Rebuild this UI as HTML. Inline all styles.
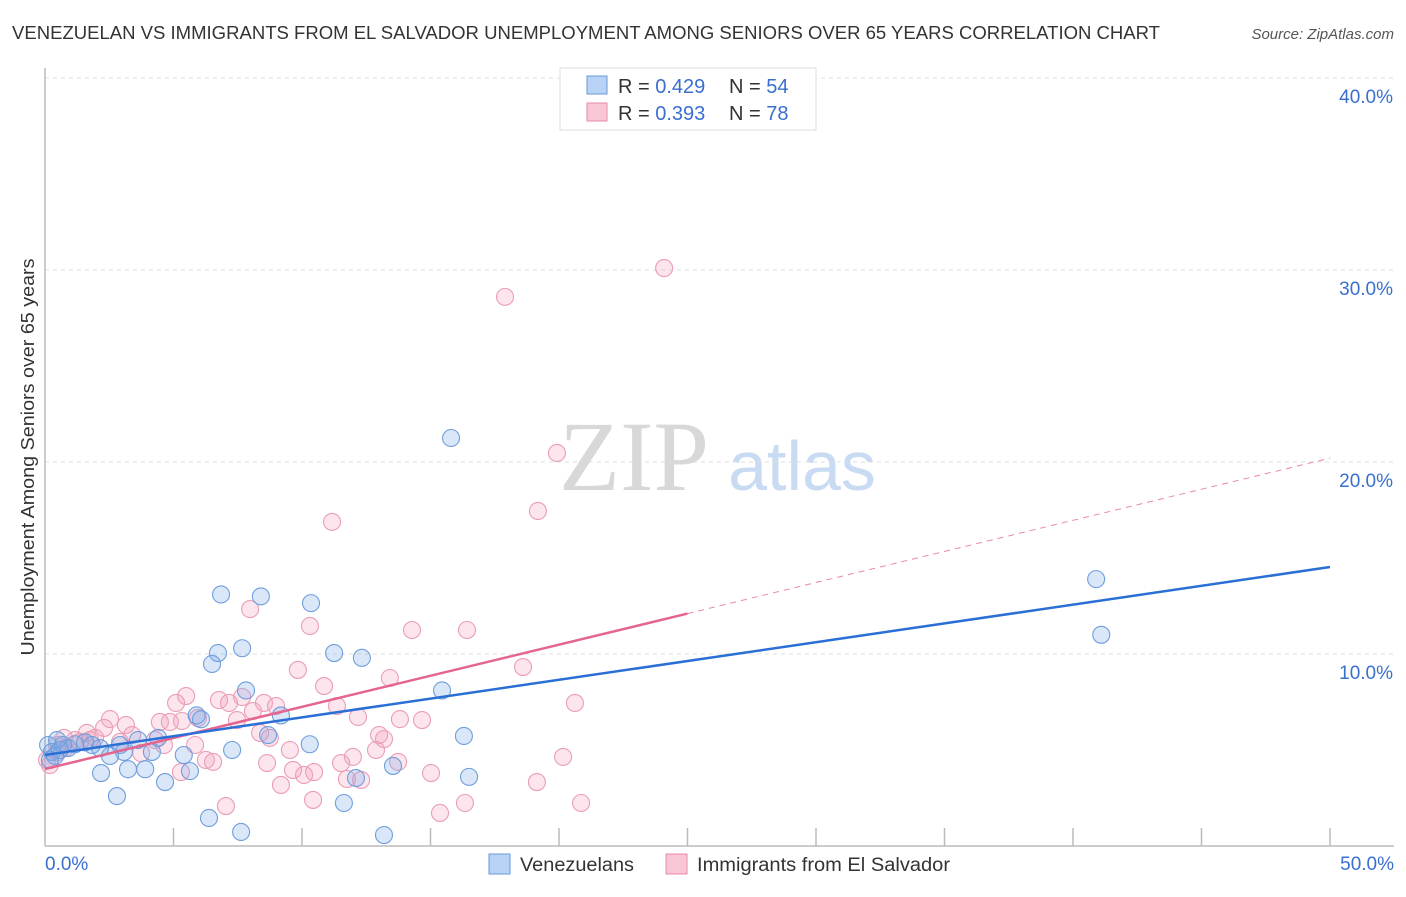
<!DOCTYPE html>
<html><head><meta charset="utf-8"><style>
body{margin:0;background:#fff;font-family:"Liberation Sans",sans-serif;}
</style></head><body>
<svg width="1406" height="892" viewBox="0 0 1406 892" font-family="Liberation Sans, sans-serif">
<text x="12" y="39" font-size="18" fill="#333" textLength="1148" lengthAdjust="spacingAndGlyphs">VENEZUELAN VS IMMIGRANTS FROM EL SALVADOR UNEMPLOYMENT AMONG SENIORS OVER 65 YEARS CORRELATION CHART</text>
<text x="1394" y="39" font-size="15" fill="#555" font-style="italic" text-anchor="end">Source: ZipAtlas.com</text>
<text x="634" y="490" font-size="100" fill="#d8d8d8" style="font-family:'Liberation Serif',serif" text-anchor="middle">ZIP</text>
<text x="802" y="490" font-size="70" fill="#c9dbf2" text-anchor="middle">atlas</text>
<g id="grid"></g>
<g id="axes"></g>
<g id="marks"></g>
<text transform="translate(34,457) rotate(-90)" font-size="18" fill="#333" text-anchor="middle" textLength="397" lengthAdjust="spacingAndGlyphs">Unemployment Among Seniors over 65 years</text>
<g>
<rect x="560" y="68" width="256" height="62" fill="#fff" stroke="#ddd"/>
<rect x="587" y="76" width="20" height="18" fill="#b8d3f5" stroke="#6a9ad8"/>
<text x="618" y="93" font-size="20" fill="#333">R = <tspan fill="#3a6fd0">0.429</tspan></text>
<text x="729" y="93" font-size="20" fill="#333">N = <tspan fill="#3a6fd0">54</tspan></text>
<rect x="587" y="103" width="20" height="18" fill="#f8c6d4" stroke="#e88aa8"/>
<text x="618" y="120" font-size="20" fill="#333">R = <tspan fill="#3a6fd0">0.393</tspan></text>
<text x="729" y="120" font-size="20" fill="#333">N = <tspan fill="#3a6fd0">78</tspan></text>
</g>
<g>
<rect x="489" y="854" width="21" height="20" fill="#b8d3f5" stroke="#6a9ad8"/>
<text x="520" y="871" font-size="19" fill="#333" textLength="114" lengthAdjust="spacingAndGlyphs">Venezuelans</text>
<rect x="666" y="854" width="21" height="20" fill="#f8c6d4" stroke="#e88aa8"/>
<text x="697" y="871" font-size="19" fill="#333" textLength="253" lengthAdjust="spacingAndGlyphs">Immigrants from El Salvador</text>
</g>
</svg>
<script>
const yTicks=[10,20,30,40];
const yTickLabels=["10.0%","20.0%","30.0%","40.0%"];
const xTickLabels=["0.0%","50.0%"];
const blueX=[15.8,40.9,41.1,6.85,8.4,10.35,7.67,6.73,6.5,11.25,12.33,7.82,15.45,5.9,6.07,9.18,7.28,8.68,10.3,16.3,5.4,4.16,3.07,2.53,13.54,16.5,12.1,5.64,4.67,3.9,3.23,2.18,2.8,11.63,6.38,7.63,13.19,0.12,0.27,0.39,0.58,0.9,1.17,1.56,1.83,2.14,3.62,4.4,2.92,0.19,0.47,0.7];
const blueY=[21.25,13.9,11.0,13.1,13.0,12.65,10.3,10.05,9.48,10.05,9.8,8.1,8.1,6.8,6.6,6.8,5.0,5.78,5.3,5.73,4.74,4.9,4.9,4.69,4.17,3.6,3.54,3.9,3.33,4.0,4.0,3.8,2.6,2.24,1.46,0.73,0.57,5.26,4.9,4.69,5.0,5.1,5.3,5.4,5.26,5.1,5.52,5.63,5.26,4.48,5.52,5.26];
const pinkX=[24.09,17.9,19.92,19.18,11.17,7.98,10.31,14.28,16.42,18.6,9.84,10.86,13.42,5.49,5.1,6.77,7.16,7.67,8.52,8.99,8.09,7.47,5.95,5.33,4.86,4.47,2.53,3.15,2.3,1.63,1.95,1.17,0.74,0.47,3.39,4.28,12.18,13.81,14.67,20.62,11.36,9.53,13.0,13.19,11.98,11.52,11.75,12.3,12.88,13.74,10.47,10.08,9.65,8.64,5.84,6.26,6.54,4.63,3.74,15.02,19.14,20.16,9.18,10.43,16.34,15.37,20.86,7.04,5.29,0.19,0.08,0.51,0.78,1.36,1.75,2.92,8.75,8.37];
const pinkY=[30.1,28.6,20.47,17.45,16.88,12.34,11.46,11.25,11.25,9.32,9.17,8.33,8.75,7.81,7.45,7.6,7.45,7.76,7.45,7.29,7.03,6.56,6.67,6.51,6.46,6.46,6.61,6.3,6.15,5.89,5.63,5.52,5.63,5.26,5.78,5.52,6.72,6.61,6.56,7.45,7.29,5.0,5.78,5.57,4.64,4.32,3.49,3.44,5.0,4.38,3.85,3.7,3.96,4.32,5.26,4.48,4.38,5.26,4.84,3.8,3.33,4.64,3.18,2.4,2.24,1.72,2.24,2.08,3.85,4.22,4.48,4.9,5.1,5.42,5.52,5.42,5.63,5.89];
const blueTrend=[4.74,14.53];
const pinkTrend=[4.01,20.2];
const pinkSolidEnd=25;

const NS="http://www.w3.org/2000/svg";
const X0=45,X1=1330,Y0=846,PXPERPCT=19.2;
function sx(v){return X0+(X1-X0)*v/50;}
function sy(v){return Y0-v*PXPERPCT;}
function mk(tag,attrs,parent){const e=document.createElementNS(NS,tag);for(const k in attrs)e.setAttribute(k,attrs[k]);parent.appendChild(e);return e;}
const grid=document.getElementById('grid'),axes=document.getElementById('axes'),marks=document.getElementById('marks');
yTicks.forEach((t,i)=>{
  const l=mk('line',{x1:X0,x2:1394,y1:sy(t),y2:sy(t),stroke:'#ddd','stroke-dasharray':'4,4'},grid);
  
  
  const tx=mk('text',{x:1393,y:sy(t)+25,'font-size':19,fill:'#3a6fd0','text-anchor':'end'},grid);
  tx.textContent=yTickLabels[i];
  
  
});
const ax=mk('line',{x1:X0,x2:X0,y1:68,y2:Y0,stroke:'#bbb','stroke-width':1.5},axes);


const bx=mk('line',{x1:X0,x2:1394,y1:Y0,y2:Y0,stroke:'#bbb','stroke-width':1.5},axes);


for(let i=1;i<=10;i++){
  const t=mk('line',{x1:sx(i*5),x2:sx(i*5),y1:828,y2:Y0,stroke:'#bbb','stroke-width':1.5},axes);
  
  
}
[[0,'start',45],[50,'end',1394]].forEach((d,i)=>{
  const t=mk('text',{x:d[2],y:870,'font-size':19,fill:'#3a6fd0','text-anchor':d[1]},axes);
  t.textContent=xTickLabels[i];
  
  
});
function dots(xs,ys,fill,stroke,name){
  xs.forEach((x,i)=>{
    const c=mk('circle',{cx:sx(x),cy:sy(ys[i]),r:8.5,fill:fill,stroke:stroke,'stroke-width':1.1},marks);
    
    
  });
}
dots(pinkX,pinkY,'rgba(244,160,188,0.28)','#eb9db6','point-el-salvador');
dots(blueX,blueY,'rgba(120,170,235,0.28)','#6f9edc','point-venezuelan');
const pd=mk('line',{x1:sx(pinkSolidEnd),y1:sy(pinkTrend[0]+(pinkTrend[1]-pinkTrend[0])*pinkSolidEnd/50),x2:sx(50),y2:sy(pinkTrend[1]),stroke:'#e88aa8','stroke-width':1,'stroke-dasharray':'6,5'},marks);


const ps=mk('line',{x1:sx(0),y1:sy(pinkTrend[0]),x2:sx(pinkSolidEnd),y2:sy(pinkTrend[0]+(pinkTrend[1]-pinkTrend[0])*pinkSolidEnd/50),stroke:'#e36590','stroke-width':2.5},marks);


const bl=mk('line',{x1:sx(0),y1:sy(blueTrend[0]),x2:sx(50),y2:sy(blueTrend[1]),stroke:'#2a6fd6','stroke-width':2.5},marks);


</script>
</body></html>
